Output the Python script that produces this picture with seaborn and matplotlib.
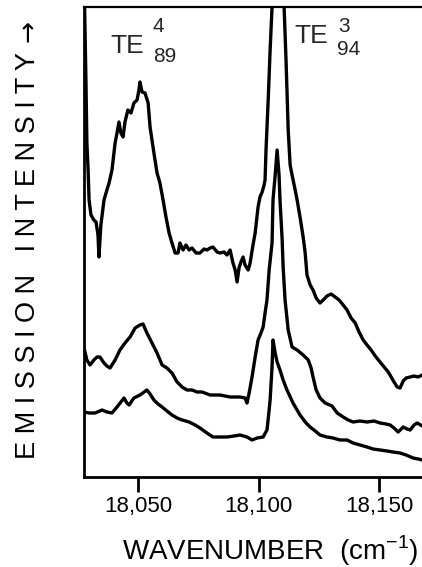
import numpy as np
import pandas as pd
import seaborn as sns
import matplotlib
matplotlib.use("Agg")
import matplotlib.pyplot as plt

# ---- data (wavenumber in cm^-1, intensity in arbitrary units) ----
top_wn = [18027.8, 18028.4, 18028.8, 18029.3, 18029.7, 18030.5, 18031.7, 18032.6, 18033.4, 18033.8,
          18034.6, 18035.9, 18037.1, 18038.0, 18039.2, 18040.5, 18041.3, 18042.1, 18042.9, 18043.8,
          18044.6, 18045.8, 18047.1, 18048.3, 18049.6, 18050.4, 18050.8, 18051.7, 18052.9, 18054.2,
          18055.0, 18055.8, 18056.6, 18057.9, 18059.1, 18060.4, 18061.6, 18062.9, 18064.1, 18065.4,
          18066.6, 18067.4, 18068.7, 18069.9, 18071.2, 18072.4, 18074.1, 18075.7, 18077.4, 18078.6,
          18079.9, 18081.1, 18082.8, 18084.0, 18085.7, 18086.9, 18088.2, 18089.4, 18090.3, 18091.1,
          18091.9, 18092.7, 18093.6, 18094.4, 18095.7, 18096.5, 18097.7, 18098.6, 18099.8, 18100.6,
          18101.5, 18102.3, 18102.7, 18103.1, 18104.0, 18104.8, 18105.6, 18106.9, 18108.1, 18109.3,
          18110.6, 18111.4, 18112.3, 18113.1, 18113.9, 18115.2, 18116.0, 18117.2, 18118.5, 18119.3,
          18120.1, 18121.4, 18122.6, 18123.9, 18125.5, 18126.8, 18128.4, 18130.1, 18131.8, 18133.4,
          18135.1, 18136.7, 18138.4, 18140.1, 18141.7, 18143.4, 18145.0, 18146.7, 18148.4, 18150.4,
          18152.1, 18153.8, 18155.0, 18156.2, 18157.5, 18158.7, 18160.0, 18161.2, 18162.9, 18164.5,
          18166.2, 18167.9]
top_int = [477, 397, 334, 307, 277, 262, 257, 255, 242, 220,
           252, 277, 287, 294, 307, 334, 344, 355, 344, 340,
           355, 367, 364, 374, 377, 387, 395, 385, 384, 374,
           350, 337, 324, 304, 294, 277, 260, 244, 234, 224,
           224, 234, 227, 232, 227, 229, 224, 224, 228, 227,
           229, 230, 225, 224, 225, 222, 227, 214, 207, 195,
           209, 215, 220, 212, 207, 214, 232, 244, 270, 280,
           285, 292, 297, 327, 377, 427, 470, 517, 577, 527,
           470, 417, 347, 312, 302, 287, 277, 260, 240, 225,
           202, 192, 187, 179, 174, 177, 181, 183, 180, 177,
           172, 167, 159, 154, 145, 137, 132, 127, 121, 115,
           110, 105, 100, 95, 90, 89, 96, 99, 100, 101,
           100, 102]

mid_wn = [18027.6, 18028.8, 18030.1, 18031.7, 18033.0, 18034.2, 18035.9, 18037.1, 18038.4, 18040.5,
          18042.5, 18044.6, 18046.7, 18048.8, 18050.8, 18052.1, 18053.7, 18055.8, 18057.9, 18060.0,
          18062.0, 18064.1, 18066.2, 18068.3, 18070.3, 18072.4, 18074.5, 18076.6, 18079.9, 18084.0,
          18088.2, 18092.3, 18094.4, 18095.2, 18096.1, 18097.3, 18098.6, 18099.8, 18101.0, 18101.9,
          18102.7, 18103.5, 18104.4, 18105.6, 18106.0, 18106.9, 18107.7, 18108.5, 18108.9, 18109.8,
          18110.2, 18111.0, 18112.3, 18113.9, 18116.0, 18118.5, 18120.6, 18121.8, 18122.6, 18123.9,
          18125.5, 18127.6, 18130.5, 18132.6, 18135.1, 18137.2, 18139.2, 18142.1, 18145.0, 18147.9,
          18150.4, 18152.9, 18154.6, 18156.2, 18157.9, 18160.0, 18161.6, 18162.9, 18164.5, 18165.8,
          18167.9]
mid_int = [129, 117, 112, 117, 120, 120, 114, 111, 109, 117,
           127, 134, 140, 149, 152, 153, 144, 134, 124, 112,
           109, 104, 95, 90, 87, 87, 85, 85, 82, 82,
           80, 80, 79, 74, 84, 100, 120, 137, 144, 150,
           164, 177, 207, 234, 277, 302, 327, 302, 277, 237,
           210, 177, 147, 130, 127, 122, 117, 109, 100, 87,
           79, 74, 71, 64, 60, 57, 55, 56, 55, 56,
           54, 53, 52, 49, 45, 50, 48, 47, 52, 54,
           51]

bot_wn = [18027.6, 18029.7, 18032.2, 18035.1, 18037.1, 18039.2, 18041.3, 18042.9, 18044.2, 18045.4,
          18046.3, 18048.3, 18050.8, 18053.7, 18055.0, 18056.6, 18058.3, 18060.0, 18062.0, 18064.1,
          18066.2, 18068.3, 18071.2, 18073.7, 18075.7, 18078.6, 18081.1, 18084.0, 18086.9, 18089.8,
          18092.3, 18095.2, 18097.3, 18099.4, 18101.9, 18103.5, 18104.4, 18104.8, 18105.6, 18106.0,
          18106.9, 18107.7, 18108.9, 18110.2, 18111.8, 18114.3, 18117.2, 18119.7, 18121.4, 18123.5,
          18125.5, 18128.4, 18130.9, 18133.8, 18136.7, 18139.2, 18142.1, 18145.0, 18147.5, 18150.4,
          18153.3, 18155.8, 18158.7, 18161.2, 18164.1, 18166.2, 18167.9]
bot_int = [65, 64, 64, 67, 65, 64, 70, 75, 79, 74,
           72, 79, 82, 87, 83, 77, 73, 70, 66, 62,
           59, 57, 55, 52, 49, 44, 40, 40, 40, 41,
           42, 40, 37, 39, 40, 47, 67, 77, 110, 137,
           124, 115, 107, 97, 87, 74, 62, 54, 50, 46,
           42, 40, 39, 37, 37, 34, 32, 30, 28, 27,
           26, 25, 24, 22, 19, 18, 17]

xticks = [18050, 18100, 18150]
xtick_labels = ["18,050", "18,100", "18,150"]

# ---- figure ----
sns.set_theme(style="white")
plt.rcParams["font.family"] = ["Liberation Sans", "DejaVu Sans"]

W, H = 422, 567
fig = plt.figure(figsize=(W / 100, H / 100), dpi=100)
ax = fig.add_axes([84 / W, (H - 477) / H, (W - 84) / W, 470 / H])

frames = []
for name, wn, it in [("top", top_wn, top_int), ("mid", mid_wn, mid_int), ("bot", bot_wn, bot_int)]:
    frames.append(pd.DataFrame({"wavenumber": wn, "intensity": it, "trace": name}))
df = pd.concat(frames, ignore_index=True)

sns.lineplot(data=df, x="wavenumber", y="intensity", units="trace", estimator=None,
             color="black", linewidth=2.4, sort=False, ax=ax, legend=False)

ax.set_xlim(18027.6, 18167.8)
ax.set_ylim(0, 470)
ax.set_xticks(xticks)
ax.set_xticklabels(xtick_labels, fontsize=16)
ax.set_yticks([])
ax.tick_params(axis="x", direction="out", length=11, width=2.0, color="black", pad=3,
               labelcolor="black", bottom=True)
for side in ["left", "bottom", "top"]:
    ax.spines[side].set_visible(True)
    ax.spines[side].set_color("black")
ax.spines["left"].set_linewidth(2.0)
ax.spines["bottom"].set_linewidth(2.0)
ax.spines["top"].set_linewidth(1.6)
ax.spines["right"].set_visible(False)

ax.set_xlabel("")
ax.set_ylabel("")
fig.text(270 / W, 1 - 560 / H, "WAVENUMBER  (cm$^{\\mathregular{-1}}$)", ha="center", va="baseline",
         fontsize=20, color="black")
fig.text(28 / W, 1 - 256 / H, "E M I S S I O N   I N T E N S I T Y", rotation=90,
         ha="center", va="center", fontsize=19.5, color="black")
fig.text(29 / W, 1 - 31 / H, "→", rotation=90, ha="center", va="center",
         fontsize=19, color="black", family="DejaVu Sans")

# mode labels
ax.text(18038.4, 424, "TE", fontsize=19, ha="left", va="baseline")
ax.text(18056.0, 445, "4", fontsize=15, ha="left", va="baseline")
ax.text(18056.2, 415, "89", fontsize=15, ha="left", va="baseline")
ax.text(18114.8, 434, "TE", fontsize=19, ha="left", va="baseline")
ax.text(18133.0, 445, "3", fontsize=15, ha="left", va="baseline")
ax.text(18132.6, 422, "94", fontsize=15, ha="left", va="baseline")

fig.savefig("out.png", dpi=100)
